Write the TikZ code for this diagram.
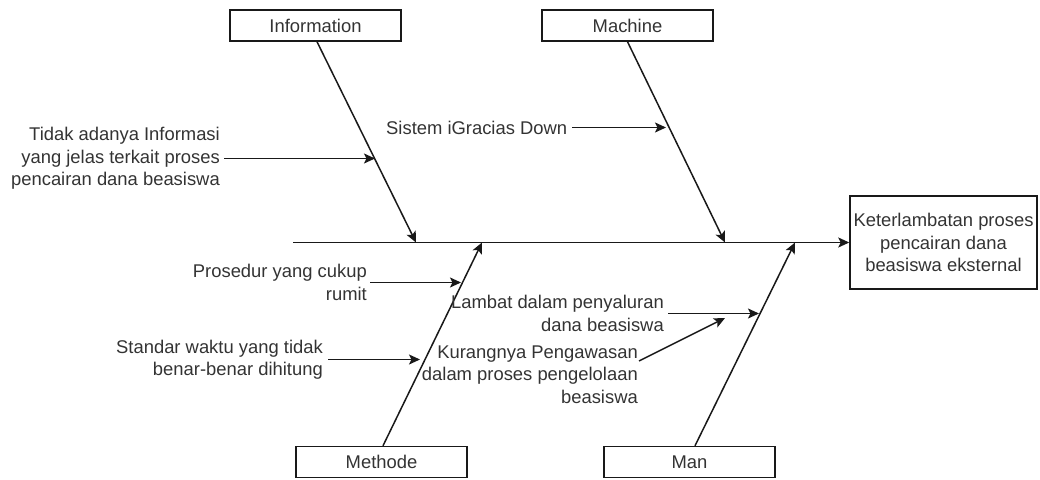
\documentclass[tikz,border=0pt]{standalone}
\usepackage{fontspec}
\setmainfont{Liberation Sans}
\usetikzlibrary{arrows.meta}
\begin{document}
\begin{tikzpicture}[x=1pt,y=-1pt,
  txt/.style={font=\fontsize{18.4}{22.5}\selectfont, text=black!80, inner sep=0pt, align=right},
  cat/.style={draw=black!90, line width=1.5pt, minimum width=171pt, minimum height=31pt, inner sep=0pt, font=\fontsize{18.4}{22.5}\selectfont, text=black!80},
  bone/.style={line width=1.5pt, draw=black!90, -{Stealth[length=11pt,width=10pt,inset=2.5pt]}}
]
\useasboundingbox (0,0) rectangle (1040,479);
% category boxes
\node[cat] (info) at (315.5,25.5) {Information};
\node[cat] (machine) at (627.5,25.5) {Machine};
\node[cat] (methode) at (381.5,462) {Methode};
\node[cat] (man) at (689.5,462) {Man};
\node[cat, minimum width=187pt, minimum height=93pt, align=center] (effect) at (943.5,242.5) {Keterlambatan proses\\pencairan dana\\beasiswa eksternal};
% spine
\coordinate (tail) at (293,242.5);
\draw[bone] (tail) -- (effect.west);
% bone tips on spine
\coordinate (infoT) at (416,242.5);
\coordinate (machT) at (725,242.5);
\coordinate (methT) at (482,242.5);
\coordinate (manT) at (795,242.5);
\draw[bone] ([xshift=1.5pt]info.south) -- (infoT);
\draw[bone] (machine.south) -- (machT);
\draw[bone] ([xshift=1.5pt]methode.north) -- (methT);
\draw[bone] ([xshift=5.5pt]man.north) -- (manT);
% sub-cause tips
\coordinate (t1) at (375,158);
\coordinate (t2) at (666,128);
\coordinate (t3) at (461,283);
\coordinate (t4) at (420,360);
\coordinate (t5) at (759,314);
\coordinate (t6) at (725,318);
% sub-cause texts
\node[txt, anchor=east] (tidak) at (220,158.5) {Tidak adanya Informasi\\yang jelas terkait proses\\pencairan dana beasiswa};
\node[txt, anchor=west] (sistem) at (386,127.5) {Sistem iGracias Down};
\node[txt, anchor=east] (prosedur) at (367,282.5) {Prosedur yang cukup\\rumit};
\node[txt, anchor=east] (standar) at (323,359.5) {Standar waktu yang tidak\\benar-benar dihitung};
\node[txt, anchor=east] (lambat) at (664,313.5) {Lambat dalam penyaluran\\dana beasiswa};
\node[txt, anchor=east] (kurang) at (638,374.5) {Kurangnya Pengawasan\\dalam proses pengelolaan\\beasiswa};
% sub-cause arrows
\draw[bone] ([xshift=4pt]tidak.east) -- (tidak.east -| t1);
\draw[bone] ([xshift=5pt]sistem.east) -- (sistem.east -| t2);
\draw[bone] ([xshift=3pt]prosedur.east) -- (prosedur.east -| t3);
\draw[bone] ([xshift=5pt]standar.east) -- (standar.east -| t4);
\draw[bone] ([xshift=4pt]lambat.east) -- (lambat.east -| t5);
\draw[bone] ([shift={(1pt,13.5pt)}]kurang.east) -- (t6);
\end{tikzpicture}
\end{document}
